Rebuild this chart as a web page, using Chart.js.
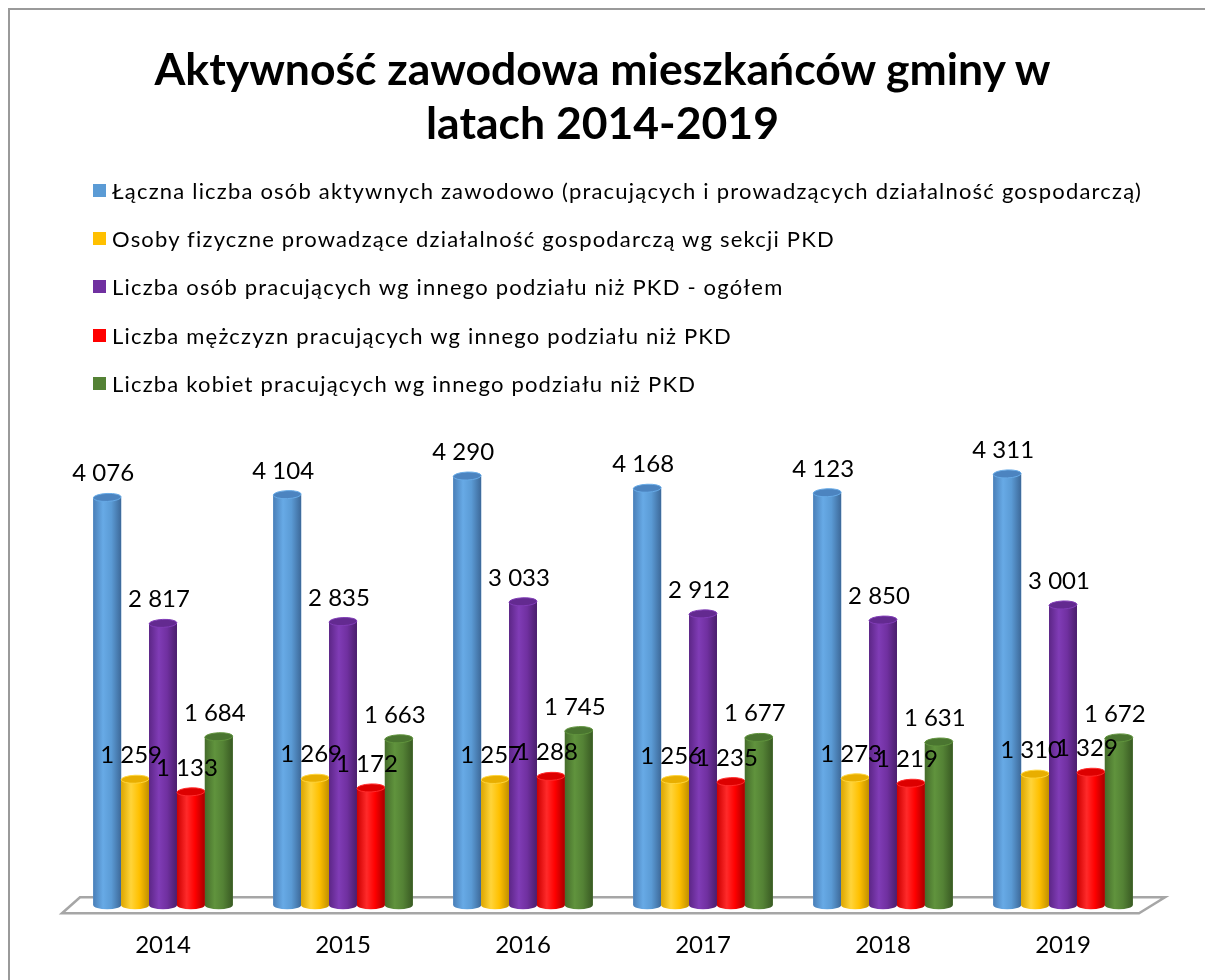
<!DOCTYPE html>
<html lang="pl">
<head>
    <meta charset="UTF-8">
    <title>Aktywność zawodowa mieszkańców gminy</title>
    <script src="https://cdn.jsdelivr.net/npm/chart.js"></script>
    <style>
        body { margin: 0; background: #fff; }
        .page { position: relative; width: 1205px; height: 980px; overflow: hidden; font-family: Lato, sans-serif; color: #000; }
        .frame { position: absolute; left: 8px; top: 8px; width: 1400px; height: 1200px; border-left: 2px solid #9a9a9a; border-top: 2px solid #9a9a9a; }
        .title { position: absolute; left: 0; top: 41px; width: 1205px; text-align: center; font-weight: 700; font-size: 44.5px; line-height: 54px; }
        .legend { position: absolute; left: 93px; top: 166px; }
        .legend-item { height: 48.3px; display: flex; align-items: center; font-size: 22px; letter-spacing: 1.2px; white-space: nowrap; }
        .legend-item .box { width: 13px; height: 13px; margin-right: 6px; flex: none; }
        canvas { position: absolute; left: 0; top: 0; }
    </style>
</head>
<body>
<div class="page">
    <div class="frame"></div>
    <canvas id="chart" width="1205" height="1000"></canvas>
    <div class="title">Aktywność zawodowa mieszkańców gminy w<br>latach 2014-2019</div>
    <div class="legend" id="legend"></div>
</div>
<script>
    // dane z wykresu
    const years = ['2014', '2015', '2016', '2017', '2018', '2019'];
    const seriesLabels = [
        'Łączna liczba osób aktywnych zawodowo (pracujących i prowadzących działalność gospodarczą)',
        'Osoby fizyczne prowadzące działalność gospodarczą wg sekcji PKD',
        'Liczba osób pracujących wg innego podziału niż PKD - ogółem',
        'Liczba mężczyzn pracujących wg innego podziału niż PKD',
        'Liczba kobiet pracujących wg innego podziału niż PKD'
    ];
    const totalActive = [4076, 4104, 4290, 4168, 4123, 4311];
    const selfEmployed = [1259, 1269, 1257, 1256, 1273, 1310];
    const employedTotal = [2817, 2835, 3033, 2912, 2850, 3001];
    const employedMen = [1133, 1172, 1288, 1235, 1219, 1329];
    const employedWomen = [1684, 1663, 1745, 1677, 1631, 1672];
    const seriesColors = ['#5B9BD5', '#FFC000', '#7030A0', '#FF0000', '#548235'];

    const seriesData = [totalActive, selfEmployed, employedTotal, employedMen, employedWomen];

    // odcienie walca: lewa krawedz, blask, srodek, prawa krawedz, wierzch
    const shades = [
        ['#4A7FB8', '#67AAE6', '#5B9BD5', '#3D6999', '#4C84C0'],
        ['#DDA600', '#FFD43A', '#FFC000', '#C09000', '#E8AE00'],
        ['#5C2686', '#803CB6', '#7030A0', '#4A1E6C', '#632A90'],
        ['#CC0000', '#FF2A2A', '#FF0000', '#A80000', '#DD0000'],
        ['#456C2B', '#60933D', '#548235', '#395A23', '#4A7530']
    ];

    // legenda
    const legend = document.getElementById('legend');
    seriesLabels.forEach((label, k) => {
        const row = document.createElement('div');
        row.className = 'legend-item';
        row.innerHTML = '<span class="box" style="background:' + seriesColors[k] + '"></span><span></span>';
        row.lastChild.textContent = label;
        legend.appendChild(row);
    });

    function fmt(v) {
        return String(v).replace(/\B(?=(\d{3})+(?!\d))/g, ' ');
    }

    function drawCylinder(ctx, x, y, base, w, s) {
        const l = x - w / 2, r = x + w / 2, ry = 4;
        const g = ctx.createLinearGradient(l, 0, r, 0);
        g.addColorStop(0, s[0]);
        g.addColorStop(0.35, s[1]);
        g.addColorStop(0.65, s[2]);
        g.addColorStop(1, s[3]);
        ctx.beginPath();
        ctx.moveTo(l, y);
        ctx.lineTo(l, base);
        ctx.ellipse(x, base, w / 2, ry, 0, Math.PI, 0, true);
        ctx.lineTo(r, y);
        ctx.closePath();
        ctx.fillStyle = g;
        ctx.fill();
        // wierzch walca
        ctx.beginPath();
        ctx.ellipse(x, y, w / 2, ry, -0.04, 0, Math.PI * 2);
        ctx.fillStyle = s[4];
        ctx.fill();
        ctx.lineWidth = 1;
        ctx.strokeStyle = s[1];
        ctx.stroke();
    }

    const cylinderPlugin = {
        id: 'cylinders',
        beforeDatasetsDraw(chart) {
            // podloga 3D
            const a = chart.chartArea, ctx = chart.ctx;
            ctx.save();
            ctx.beginPath();
            ctx.moveTo(a.left - 11, a.bottom + 8);
            ctx.lineTo(a.left + 7, a.bottom - 8);
            ctx.lineTo(a.right + 12, a.bottom - 8);
            ctx.lineTo(a.right - 14, a.bottom + 8);
            ctx.closePath();
            ctx.fillStyle = '#ffffff';
            ctx.fill();
            ctx.lineWidth = 2.5;
            ctx.strokeStyle = '#a6a6a6';
            ctx.stroke();
            ctx.restore();
        },
        afterDatasetsDraw(chart) {
            const ctx = chart.ctx;
            ctx.save();
            years.forEach((yr, i) => {
                seriesData.forEach((d, k) => {
                    const el = chart.getDatasetMeta(k).data[i];
                    drawCylinder(ctx, el.x, el.y, el.base, el.width, shades[k]);
                });
            });
            // etykiety danych
            ctx.font = '24px Lato';
            ctx.fillStyle = '#000';
            ctx.textAlign = 'center';
            ctx.textBaseline = 'alphabetic';
            years.forEach((yr, i) => {
                seriesData.forEach((d, k) => {
                    const el = chart.getDatasetMeta(k).data[i];
                    ctx.fillText(fmt(d[i]), el.x - 4, el.y - 16);
                });
            });
            ctx.restore();
        }
    };

    function build() {
        new Chart(document.getElementById('chart'), {
            type: 'bar',
            data: {
                labels: years,
                datasets: seriesLabels.map((label, k) => ({
                    label: label,
                    data: seriesData[k],
                    backgroundColor: seriesColors[k],
                    borderWidth: 0,
                    categoryPercentage: 0.775,
                    barPercentage: 1
                }))
            },
            options: {
                responsive: false,
                animation: false,
                layout: { padding: { left: 73, right: 52, top: 405, bottom: 14 } },
                plugins: {
                    legend: { display: false },
                    title: { display: false },
                    tooltip: { enabled: false }
                },
                scales: {
                    x: {
                        grid: { display: false, drawTicks: false },
                        border: { display: false },
                        ticks: { color: '#000', font: { family: 'Lato', size: 24 }, padding: 26 }
                    },
                    y: { display: false, min: 0, max: 5000 }
                }
            },
            plugins: [cylinderPlugin]
        });
    }

    document.fonts.load('24px Lato').then(build, build);
</script>
</body>
</html>
